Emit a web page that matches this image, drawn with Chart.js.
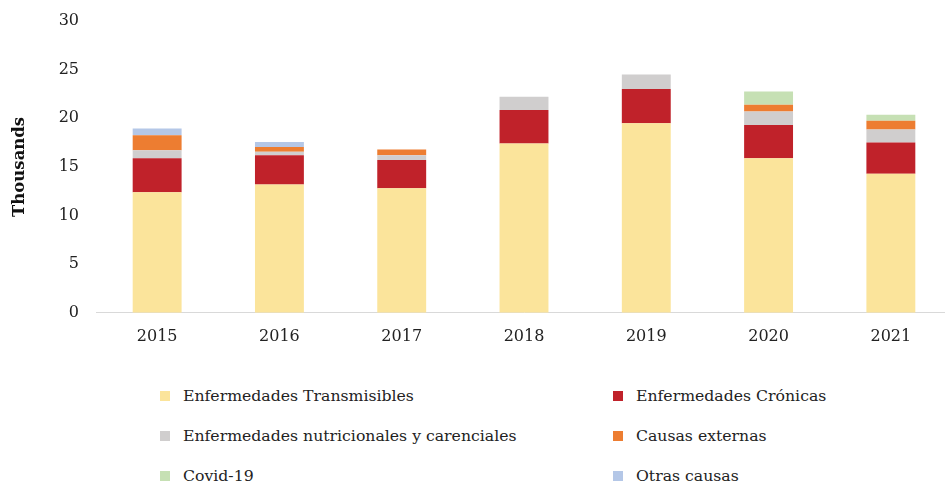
<!DOCTYPE html>
<html>
<head>
<meta charset="utf-8">
<script src="https://cdn.jsdelivr.net/npm/chart.js@4"></script>
<style>
  html, body { margin: 0; padding: 0; background: #fff; overflow: hidden; }
  #wrap { position: relative; width: 952px; height: 360px; }
  .legend { position: absolute; top: 386px; left: 160px; width: 780px;
            display: grid; grid-template-columns: 453px 300px; row-gap: 21px;
            font-family: 'DejaVu Serif', serif; font-size: 15.7px; color: #222; }
  .legend span.box { display: inline-block; width: 10px; height: 10px; margin-right: 13px; vertical-align: 0px; }
</style>
</head>
<body>
<div id="wrap"><canvas id="chart"></canvas></div>
<div class="legend" id="legend"></div>
<script>
// ── Data (thousands) ─────────────────────────────────────
const years = ['2015', '2016', '2017', '2018', '2019', '2020', '2021'];
const transmisibles = [12.4, 13.2, 12.8, 17.4, 19.5, 15.9, 14.3];
const cronicas      = [3.5, 3.0, 2.9, 3.45, 3.5, 3.4, 3.2];
const nutricionales = [0.8, 0.35, 0.5, 1.35, 1.5, 1.4, 1.35];
const externas      = [1.55, 0.5, 0.6, 0, 0, 0.7, 0.9];
const covid         = [0, 0, 0, 0, 0, 1.35, 0.6];
const otras         = [0.7, 0.5, 0, 0, 0, 0, 0];
const yTicks = [0, 5, 10, 15, 20, 25, 30];

const series = [
    { label: 'Enfermedades Transmisibles', data: transmisibles, color: '#FBE49B' },
    { label: 'Enfermedades Crónicas', data: cronicas, color: '#C0222A' },
    { label: 'Enfermedades nutricionales y carenciales', data: nutricionales, color: '#D0CECE' },
    { label: 'Causas externas', data: externas, color: '#ED7D31' },
    { label: 'Covid-19', data: covid, color: '#C6E0B4' },
    { label: 'Otras causas', data: otras, color: '#B4C7E7' }
];

const FONT = "'DejaVu Serif', serif";

new Chart(document.getElementById('chart'), {
    type: 'bar',
    data: {
        labels: years,
        datasets: series.map(s => ({
            label: s.label,
            data: s.data,
            backgroundColor: s.color,
            borderWidth: 0,
            barPercentage: 0.4,
            categoryPercentage: 1
        }))
    },
    options: {
        responsive: true,
        maintainAspectRatio: false,
        animation: false,
        layout: { padding: { top: 21, right: 0, bottom: 0, left: 0 } },
        plugins: { legend: { display: false }, tooltip: { enabled: false } },
        scales: {
            x: {
                stacked: true,
                grid: { display: false, drawTicks: false },
                border: { color: '#D9D9D9', width: 1 },
                ticks: { color: '#222', padding: 14, font: { family: FONT, size: 16 } }
            },
            y: {
                stacked: true,
                min: 0, max: 30,
                afterBuildTicks: s => { s.ticks = yTicks.map(v => ({ value: v })); },
                afterFit: s => { s.width = 96; s.paddingTop = 0; s.paddingBottom = 0; },
                grid: { display: false, drawTicks: false },
                border: { display: false },
                ticks: { color: '#222', padding: 17, font: { family: FONT, size: 16 } },
                title: {
                    display: true, text: 'Thousands', color: '#111',
                    padding: { top: 10, bottom: 0 },
                    font: { family: FONT, size: 16.5, weight: 'bold' }
                }
            }
        }
    }
});

// ── HTML legend (two columns) ────────────────────────────
const legendEl = document.getElementById('legend');
series.forEach(s => {
    const item = document.createElement('div');
    item.innerHTML = `<span class="box" style="background:${s.color}"></span>${s.label}`;
    legendEl.appendChild(item);
});
</script>
</body>
</html>
